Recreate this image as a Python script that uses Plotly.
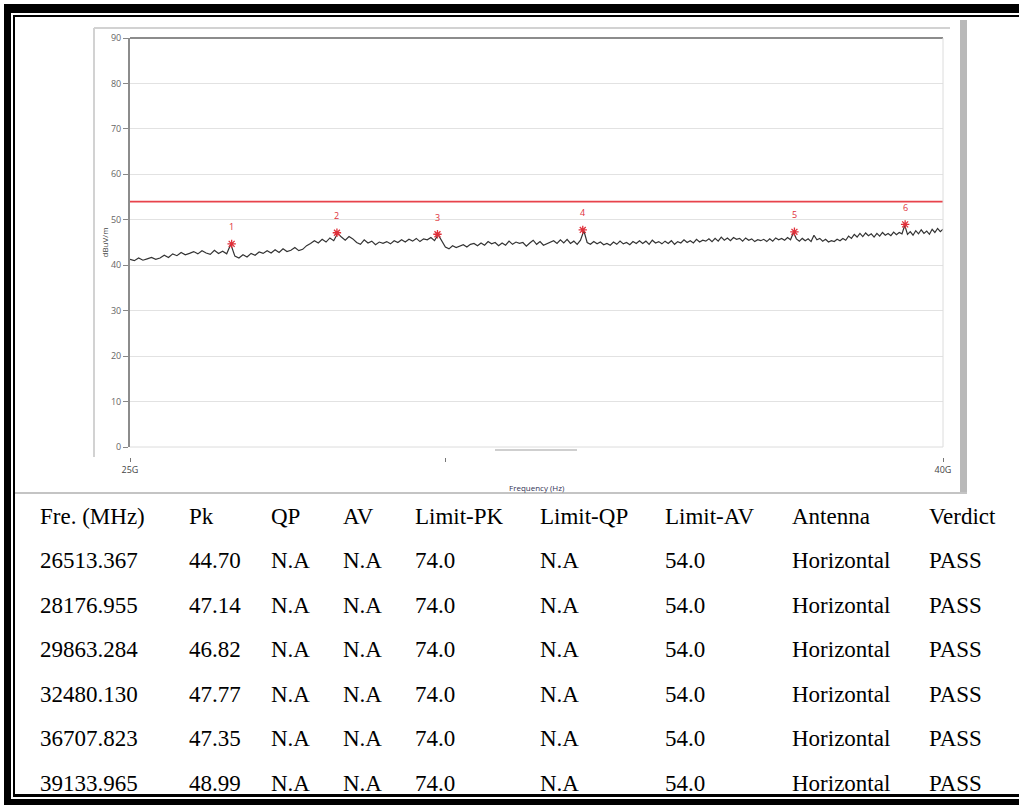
import numpy as np
import plotly.graph_objects as go

# ---- sweep: 25 GHz .. 40 GHz, 62.5 MHz step, horizontal polarisation (dBuV/m) ----
SWEEP_START_HZ = 25e9
SWEEP_STOP_HZ = 40e9
SWEEP_LEVEL = [
    41.3, 41.0, 41.6, 41.1, 41.4, 41.7, 41.3, 41.6, 42.2, 41.7, 42.5, 42.1, 42.8, 42.3, 42.6, 43.0,
    42.5, 43.2, 42.7, 42.4, 43.3, 42.6, 43.1, 42.5, 44.6, 42.0, 41.6, 42.3, 41.8, 42.6, 42.2, 42.9,
    42.6, 43.2, 42.7, 43.4, 42.8, 43.6, 43.0, 43.3, 43.9, 43.2, 43.5, 44.3, 44.8, 45.4, 44.9, 45.7,
    45.1, 46.0, 45.4, 47.0, 46.2, 45.5, 46.3, 45.8, 45.0, 44.6, 45.6, 44.9, 45.3, 44.5, 45.1, 44.8,
    45.2, 44.7, 45.4, 45.0, 45.6, 45.1, 45.7, 45.3, 45.9, 45.2, 45.8, 45.6, 46.1, 45.4, 46.7, 45.2,
    44.0, 43.6, 44.3, 43.9, 44.2, 44.5, 44.0, 44.6, 44.8, 44.3, 44.9, 44.4, 45.2, 44.7, 45.0, 44.3,
    44.9, 44.4, 45.3, 44.6, 45.1, 44.8, 45.0, 44.2, 44.9, 45.5, 44.6, 45.2, 44.4, 44.7, 45.0, 45.4,
    44.8, 45.6, 44.9, 45.7, 44.8, 45.3, 44.6, 45.5, 47.6, 45.0, 44.6, 45.2, 44.7, 45.1, 44.5, 44.8,
    44.4, 45.1, 44.6, 45.3, 44.7, 45.0, 44.5, 45.2, 44.8, 45.4, 44.8, 45.3, 44.6, 45.5, 44.9, 45.2,
    44.7, 45.3, 44.8, 45.4, 44.6, 45.2, 44.9, 45.6, 45.0, 45.4, 44.9, 45.7, 45.1, 45.5, 45.3, 45.8,
    45.2, 45.9, 45.3, 46.2, 45.5, 46.0, 45.4, 46.1, 45.7, 45.9, 45.3, 46.0, 45.5, 45.8, 45.2, 45.6,
    45.4, 45.7, 45.2, 45.8, 45.3, 46.0, 45.6, 45.9, 45.5, 46.1, 45.6, 47.2, 45.8, 45.3, 45.9, 45.4,
    45.8, 45.2, 46.6, 45.6, 45.9, 45.3, 45.7, 45.1, 45.4, 45.2, 45.7, 45.4, 45.9, 45.5, 46.4, 45.9,
    46.8, 46.2, 47.0, 46.3, 47.1, 46.5, 46.9, 46.2, 47.0, 46.4, 47.2, 46.6, 47.0, 46.5, 47.3, 46.7,
    47.2, 46.9, 48.8, 46.8, 47.4, 46.6, 47.6, 46.9, 47.8, 47.0, 47.5, 46.8, 47.9, 47.2, 48.1, 47.4,
    47.9,
]

# ---- peak list ----
PEAK_FREQ_MHZ = [26513.367, 28176.955, 29863.284, 32480.130, 36707.823, 39133.965]
PEAK_PK = [44.70, 47.14, 46.82, 47.77, 47.35, 48.99]
PEAK_QP = ["N.A"] * 6
PEAK_AV = ["N.A"] * 6
LIMIT_PK = [74.0] * 6
LIMIT_QP = ["N.A"] * 6
LIMIT_AV = [54.0] * 6
ANTENNA = ["Horizontal"] * 6
VERDICT = ["PASS"] * 6
TABLE_HEADER = ["Fre. (MHz)", "Pk", "QP", "AV", "Limit-PK", "Limit-QP", "Limit-AV", "Antenna", "Verdict"]

Y_TICKS = list(range(0, 91, 10))
X_TICKS_HZ = [25e9, 30e9, 40e9]
X_TICK_TEXT = ["25G", "", "40G"]

W, H = 1019, 805
# plot area in pixels
PL, PR, PT, PB = 130, 943, 38, 457
Y_AX_BOTTOM = 447  # y = 0 line (x axis ticks sit a little lower)


def px(x):
    return (x - PL) / (PR - PL)


def py(y):
    return (PB - y) / (PB - PT)


sweep_hz = np.linspace(SWEEP_START_HZ, SWEEP_STOP_HZ, len(SWEEP_LEVEL))
peak_hz = [f * 1e6 for f in PEAK_FREQ_MHZ]

fig = go.Figure()

# limit line (AV limit)
fig.add_trace(go.Scatter(
    x=[SWEEP_START_HZ, SWEEP_STOP_HZ], y=[LIMIT_AV[0], LIMIT_AV[0]],
    mode="lines", line=dict(color="#e8434b", width=1.6), hoverinfo="skip", showlegend=False,
))
# measured sweep
fig.add_trace(go.Scatter(
    x=sweep_hz, y=SWEEP_LEVEL, mode="lines",
    line=dict(color="#333333", width=1.2), showlegend=False,
))
# peak markers
fig.add_trace(go.Scatter(
    x=peak_hz, y=PEAK_PK, mode="markers",
    marker=dict(symbol="asterisk-open", size=7, color="#e0303a", line=dict(width=1.3, color="#e0303a")),
    showlegend=False,
))

annotations = []
for i, (f, v) in enumerate(zip(peak_hz, PEAK_PK)):
    annotations.append(dict(
        x=np.log10(f), y=v, xref="x", yref="y", text=str(i + 1), showarrow=False,
        xanchor="center", yanchor="middle",
        yshift=17, font=dict(family="Open Sans", size=9, color="#e0303a"),
    ))

# axis titles
annotations.append(dict(
    x=px(104), y=py((PT + Y_AX_BOTTOM) / 2), xref="paper", yref="paper", text="dBuV/m",
    xanchor="center", yanchor="middle",
    textangle=-90, showarrow=False, font=dict(family="Open Sans", size=8, color="#444"),
))
annotations.append(dict(
    x=px((PL + PR) / 2), y=py(487), xref="paper", yref="paper", text="Frequency (Hz)",
    xanchor="center", yanchor="middle",
    showarrow=False, font=dict(family="Open Sans", size=8, color="#333355"),
))

# table
TABLE_FONT = dict(family="Liberation Serif, Times New Roman, serif", size=23, color="#000000")
COL_X = [38, 187, 269, 341, 413, 538, 663, 790, 927]
ROW_Y0, ROW_STEP = 516, 44.5
rows = [TABLE_HEADER]
for k in range(len(PEAK_FREQ_MHZ)):
    rows.append([
        f"{PEAK_FREQ_MHZ[k]:.3f}", f"{PEAK_PK[k]:.2f}", PEAK_QP[k], PEAK_AV[k],
        f"{LIMIT_PK[k]:.1f}", LIMIT_QP[k], f"{LIMIT_AV[k]:.1f}", ANTENNA[k], VERDICT[k],
    ])
for r, row in enumerate(rows):
    for c, txt in enumerate(row):
        annotations.append(dict(
            x=px(COL_X[c]), y=py(ROW_Y0 + r * ROW_STEP), xref="paper", yref="paper",
            text=txt, showarrow=False, xanchor="left", yanchor="middle", font=TABLE_FONT,
        ))


def rect(x0, y0, x1, y1, color, layer="above"):
    return dict(type="rect", xref="paper", yref="paper", x0=px(x0), x1=px(x1), y0=py(y1), y1=py(y0),
                fillcolor=color, line=dict(width=0), layer=layer)


def hline(x0, x1, y, color, width=1):
    return dict(type="line", xref="paper", yref="paper", x0=px(x0), x1=px(x1), y0=py(y), y1=py(y),
                line=dict(color=color, width=width))


def vline(x, y0, y1, color, width=1):
    return dict(type="line", xref="paper", yref="paper", x0=px(x), x1=px(x), y0=py(y0), y1=py(y1),
                line=dict(color=color, width=width))


shapes = [
    # chart panel frame
    hline(94, 950, 28, "#d2d2d2", 2),
    vline(94, 28, 457, "#d2d2d2", 2),
    rect(960, 20, 967, 493, "#b9b9b9"),
    hline(14, 967, 493, "#c4c4c4", 2),
    hline(495, 577, 450, "#cfcfcf", 2),
    # plot box
    hline(PL, PR, PT, "#8c8c8c", 2),
    vline(PR, PT, Y_AX_BOTTOM, "#dcdcdc", 1),
    hline(PL, PR, Y_AX_BOTTOM, "#dcdcdc", 1),
    dict(type="line", xref="x", yref="y", x0=np.log10(30e9), x1=np.log10(30e9), y0=0, y1=90,
         line=dict(color="#cfcfcf", width=1), layer="below"),
    # page border
    rect(4, 4, W + 2, 13, "#000000"),
    rect(14, 15, W + 2, 17, "#000000"),
    rect(4, 4, 11, H + 2, "#000000"),
    rect(13, 15, 15, 797, "#000000"),
    rect(13, 794, W + 2, 797, "#000000"),
    rect(4, 799, W + 2, H + 2, "#000000"),
]

fig.update_layout(
    width=W, height=H,
    margin=dict(l=PL, r=W - PR, t=PT, b=H - PB, autoexpand=False),
    paper_bgcolor="#ffffff", plot_bgcolor="#ffffff",
    showlegend=False,
    annotations=annotations, shapes=shapes,
    xaxis=dict(
        type="log", range=[np.log10(SWEEP_START_HZ), np.log10(SWEEP_STOP_HZ)],
        anchor="free", position=0, showline=False, showgrid=False, zeroline=False,
        tickvals=X_TICKS_HZ, ticktext=X_TICK_TEXT, ticks="outside", ticklen=4,
        tickcolor="#777", tickwidth=1, tickfont=dict(family="Open Sans", size=9, color="#444"),
    ),
    yaxis=dict(
        domain=[py(Y_AX_BOTTOM), 1], range=[0, 90], tickvals=Y_TICKS,
        showgrid=True, gridcolor="#e2e2e2", gridwidth=1, zeroline=False,
        showline=True, linecolor="#8c8c8c", linewidth=2,
        ticks="outside", ticklen=5, tickcolor="#888", tickwidth=1,
        tickfont=dict(family="Open Sans", size=9, color="#666"),
    ),
)

fig.write_html("out.html")
